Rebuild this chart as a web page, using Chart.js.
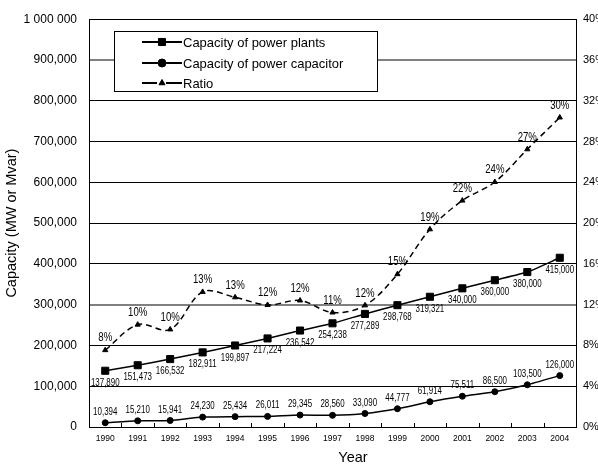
<!DOCTYPE html>
<html>
<head>
<meta charset="utf-8">
<script src="https://cdn.jsdelivr.net/npm/chart.js@4/dist/chart.umd.min.js"></script>
<style>
html,body{margin:0;padding:0;background:#fff;}
#wrap{width:598px;height:468px;position:relative;}
</style>
</head>
<body>
<div id="wrap"><canvas id="c" width="598" height="468"></canvas></div>
<script>
const years = ['1990','1991','1992','1993','1994','1995','1996','1997','1998','1999','2000','2001','2002','2003','2004'];
const plants = [137890,151473,166532,182911,199897,217224,236542,254238,277289,298768,319321,340000,360000,380000,415000];
const capacitors = [10394,15210,15941,24230,25434,26011,29345,28560,33090,44777,61914,75511,86500,103500,126000];
const ratio = [7.54,10.04,9.57,13.25,12.72,11.97,12.41,11.23,11.93,14.99,19.39,22.21,24.03,27.24,30.36];
const seriesNames = ['Capacity of power plants','Capacity of power capacitor','Ratio'];
const leftTickLabels = {0:'0',100000:'100,000',200000:'200,000',300000:'300,000',400000:'400,000',500000:'500,000',600000:'600,000',700000:'700,000',800000:'800,000',900000:'900,000',1000000:'1 000 000'};
const xTitle = 'Year';
const yTitle = 'Capacity (MW or Mvar)';

const SANS = '"Liberation Sans",Arial,sans-serif';

function narrowText(ctx, text, x, y, sx) {
  ctx.save();
  ctx.translate(x, y);
  ctx.scale(sx, 1);
  ctx.fillText(text, 0, 0);
  ctx.restore();
}

const labelPlugin = {
  id: 'labels',
  afterDatasetsDraw(chart) {
    const ctx = chart.ctx;
    ctx.save();
    ctx.fillStyle = '#000';
    ctx.textAlign = 'center';
    ctx.textBaseline = 'middle';
    ctx.font = '11px ' + SANS;
    chart.getDatasetMeta(0).data.forEach((p, i) => {
      narrowText(ctx, plants[i].toLocaleString('en-US'), p.x, p.y + 12, 0.72);
    });
    chart.getDatasetMeta(1).data.forEach((p, i) => {
      narrowText(ctx, capacitors[i].toLocaleString('en-US'), p.x, p.y - 11, 0.72);
    });
    ctx.font = '12px ' + SANS;
    chart.getDatasetMeta(2).data.forEach((p, i) => {
      narrowText(ctx, Math.round(ratio[i]) + '%', p.x, p.y - 12, 0.8);
    });
    const xs = chart.scales.x;
    const n = years.length;
    ctx.strokeStyle = '#000';
    ctx.lineWidth = 1;
    ctx.beginPath();
    for (let i = 1; i < n; i++) {
      const x = Math.round(xs.left + (xs.right - xs.left) * i / n) + 0.5;
      ctx.moveTo(x, xs.top);
      ctx.lineTo(x, xs.top - 4);
    }
    ctx.stroke();
    ctx.font = '14.5px ' + SANS;
    ctx.fillText(xTitle, 353, 458);
    ctx.restore();
  },
  afterDraw(chart) {
    const ctx = chart.ctx;
    ctx.save();
    const bx = 114.5, by = 31.5, bw = 263, bh = 60;
    ctx.fillStyle = '#fff';
    ctx.fillRect(bx, by, bw, bh);
    ctx.strokeStyle = '#000';
    ctx.lineWidth = 1;
    ctx.strokeRect(bx, by, bw, bh);
    const rows = [42, 63, 83];
    const styles = ['rect', 'circle', 'triangle'];
    const radii = [5, 4, 3.5];
    ctx.font = '13px ' + SANS;
    ctx.textBaseline = 'middle';
    ctx.textAlign = 'left';
    rows.forEach((ry, i) => {
      ctx.strokeStyle = '#000';
      ctx.lineWidth = 2;
      ctx.beginPath();
      if (i === 2) {
        ctx.moveTo(142, ry); ctx.lineTo(157, ry);
        ctx.moveTo(166, ry); ctx.lineTo(182, ry);
      } else {
        ctx.moveTo(142, ry); ctx.lineTo(182, ry);
      }
      ctx.stroke();
      ctx.fillStyle = '#000';
      ctx.lineWidth = 1;
      Chart.helpers.drawPoint(ctx, {pointStyle: styles[i], radius: radii[i], borderWidth: 1}, 162, ry);
      ctx.fillStyle = '#000';
      ctx.fillText(seriesNames[i], 183, ry + 1);
    });
    ctx.restore();
  }
};

new Chart(document.getElementById('c'), {
  type: 'line',
  data: {
    labels: years,
    datasets: [
      {label: seriesNames[0], data: plants, yAxisID: 'y', borderColor: '#000', backgroundColor: '#000', borderWidth: 1.5,
       pointStyle: 'rect', pointRadius: 5, pointBorderWidth: 1, pointBorderColor: '#000', pointBackgroundColor: '#000', tension: 0.2},
      {label: seriesNames[1], data: capacitors, yAxisID: 'y', borderColor: '#000', backgroundColor: '#000', borderWidth: 1.5,
       pointStyle: 'circle', pointRadius: 3, pointBorderWidth: 1, pointBorderColor: '#000', pointBackgroundColor: '#000', tension: 0.2},
      {label: seriesNames[2], data: ratio, yAxisID: 'y1', borderColor: '#000', backgroundColor: '#000', borderWidth: 1.5, borderDash: [6, 4],
       pointStyle: 'triangle', pointRadius: 3, pointBorderWidth: 1, pointBorderColor: '#000', pointBackgroundColor: '#000', tension: 0.35}
    ]
  },
  options: {
    responsive: false,
    animation: false,
    events: [],
    layout: {padding: {top: 15.5, left: 0, right: 0, bottom: 0}},
    plugins: {legend: {display: false}, tooltip: {enabled: false}},
    scales: {
      x: {
        type: 'category',
        offset: true,
        grid: {display: false, drawTicks: false},
        border: {display: true, color: '#000', width: 1},
        ticks: {color: '#000', font: {family: SANS, size: 8.5}, padding: 7, maxRotation: 0, autoSkip: false},
        afterFit(s) { s.height = 41; }
      },
      y: {
        position: 'left',
        min: 0, max: 1000000,
        ticks: {stepSize: 100000, color: '#000', font: {family: SANS, size: 12}, padding: 12,
                callback: v => leftTickLabels[v]},
        grid: {drawTicks: false,
               color: c => (c.tick && (c.tick.value === 900000 || c.tick.value === 300000)) ? '#808080' : '#000',
               lineWidth: c => (c.tick && (c.tick.value === 900000 || c.tick.value === 300000)) ? 2 : 1},
        border: {display: true, color: '#000', width: 1},
        title: {display: true, text: yTitle, color: '#000', font: {family: SANS, size: 14.5}, padding: {top: 3, bottom: 0}},
        afterFit(s) { s.width = 89; }
      },
      y1: {
        position: 'right',
        min: 0, max: 40,
        ticks: {stepSize: 4, color: '#000', font: {family: SANS, size: 11}, padding: 7, callback: v => v + '%'},
        grid: {drawOnChartArea: false, drawTicks: false},
        border: {display: true, color: '#000', width: 1},
        afterFit(s) { s.width = 22; }
      }
    }
  },
  plugins: [labelPlugin]
});
</script>
</body>
</html>
